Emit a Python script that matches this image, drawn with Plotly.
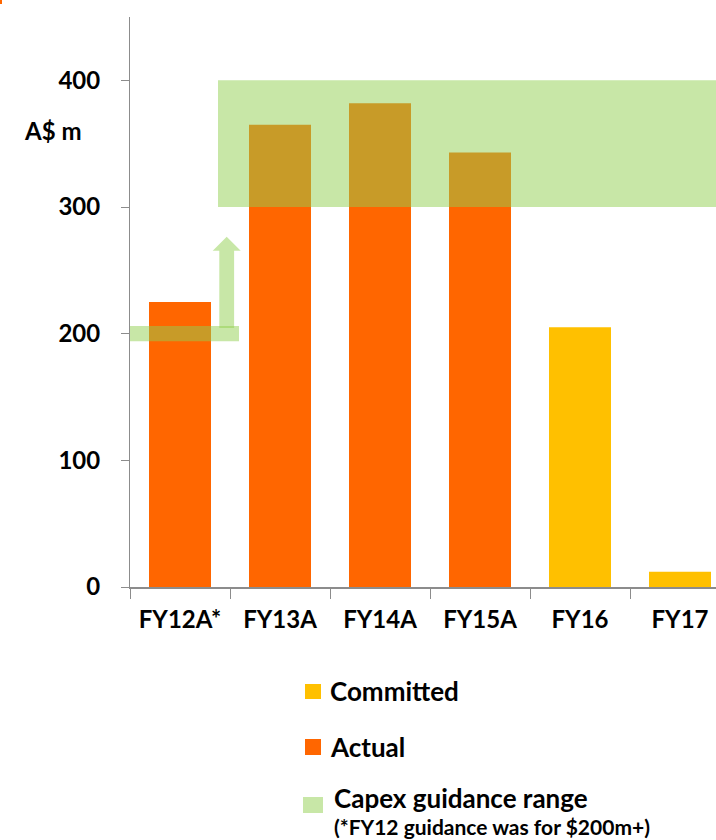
import plotly.graph_objects as go

# Capex by financial year (A$ m)
categories = ["FY12A*", "FY13A", "FY14A", "FY15A", "FY16", "FY17"]
actual_years = ["FY12A*", "FY13A", "FY14A", "FY15A"]
actual_values = [225, 365, 382, 343]
committed_years = ["FY16", "FY17"]
committed_values = [205, 12]

# Capex guidance
guidance_low = 300
guidance_high = 400
fy12_guidance = 200

y_ticks = [0, 100, 200, 300, 400]

ORANGE = "#FF6600"
YELLOW = "#FFC000"
GREEN = "#92D050"
AXIS_GREY = "#8C8C8C"
FONT = "Lato"

W, H = 716, 840
L, R, T, B = 130, 0, 17, 253
X_RANGE = [-0.5, 5.36]
Y_RANGE = [0, 450]


def px(x):
    """Page pixel x -> paper fraction."""
    return (x - L) / (W - L - R)


def py(y):
    """Page pixel y -> paper fraction."""
    return (H - B - y) / (H - T - B)


fig = go.Figure()

fig.add_trace(go.Bar(
    x=actual_years, y=actual_values, name="Actual",
    marker=dict(color=ORANGE, line=dict(width=0)), width=0.62,
    showlegend=False,
))
fig.add_trace(go.Bar(
    x=committed_years, y=committed_values, name="Committed",
    marker=dict(color=YELLOW, line=dict(width=0)), width=0.62,
    showlegend=False,
))

shapes = []

# Guidance band FY13 onwards
shapes.append(dict(
    type="rect", xref="x2", yref="y", layer="above",
    x0=0.38, x1=X_RANGE[1], y0=guidance_low, y1=guidance_high,
    fillcolor=GREEN, opacity=0.5, line=dict(width=0),
))
# FY12 guidance ($200m+)
shapes.append(dict(
    type="rect", xref="x2", yref="y", layer="above",
    x0=-0.5, x1=0.59, y0=fy12_guidance - 6, y1=fy12_guidance + 6,
    fillcolor=GREEN, opacity=0.5, line=dict(width=0),
))
# Upward arrow from the FY12 guidance mark
ax_c, shaft_hw, head_hw = 0.467, 0.074, 0.14
y_base, y_head, y_tip = fy12_guidance + 4.5, 265.5, 276.5
arrow = (
    f"M {ax_c - shaft_hw} {y_base} L {ax_c - shaft_hw} {y_head} "
    f"L {ax_c - head_hw} {y_head} L {ax_c} {y_tip} L {ax_c + head_hw} {y_head} "
    f"L {ax_c + shaft_hw} {y_head} L {ax_c + shaft_hw} {y_base} Z"
)
shapes.append(dict(
    type="path", xref="x2", yref="y", layer="above", path=arrow,
    fillcolor=GREEN, opacity=0.5, line=dict(width=0),
))

# Legend swatches
legend_items = [
    ("Committed", YELLOW, 1.0, (305, 684, 321, 699), (328, 691), 26),
    ("Actual", ORANGE, 1.0, (305, 739, 321, 755), (328, 747), 26),
    ("Capex guidance range", GREEN, 0.5, (303, 797, 323, 813), (332, 798), 26),
]
annotations = []
for label, color, op, (x0, y0, x1, y1), (tx, ty), size in legend_items:
    shapes.append(dict(
        type="rect", xref="paper", yref="paper",
        x0=px(x0), x1=px(x1), y0=py(y1), y1=py(y0),
        fillcolor=color, opacity=op, line=dict(width=0),
    ))
    annotations.append(dict(
        xref="paper", yref="paper", x=px(tx), y=py(ty),
        xanchor="left", yanchor="middle", showarrow=False, text=label,
        font=dict(family=FONT, size=size, color="#000000", weight=700),
    ))

annotations.append(dict(
    xref="paper", yref="paper", x=px(332), y=py(826),
    xanchor="left", yanchor="middle", showarrow=False,
    text="(*FY12 guidance was for $200m+)",
    font=dict(family=FONT, size=21, color="#000000", weight=700),
))

# Axis unit
annotations.append(dict(
    xref="paper", yref="paper", x=px(53), y=py(131),
    xanchor="center", yanchor="middle", showarrow=False, text="A$ m",
    font=dict(family=FONT, size=24, color="#000000", weight=700),
))

# small corner mark
shapes.append(dict(
    type="rect", xref="paper", yref="paper",
    x0=px(0), x1=px(2), y0=py(4), y1=py(0),
    fillcolor=ORANGE, line=dict(width=0),
))

fig.update_layout(
    width=W, height=H,
    margin=dict(l=L, r=R, t=T, b=B, pad=0),
    paper_bgcolor="white", plot_bgcolor="white",
    barmode="overlay",
    showlegend=False,
    shapes=shapes,
    annotations=annotations,
    xaxis=dict(
        type="category", categoryorder="array", categoryarray=categories,
        range=X_RANGE, showgrid=False, zeroline=False,
        showline=True, linecolor=AXIS_GREY, linewidth=2,
        ticks="outside", tickson="boundaries", ticklen=10,
        tickcolor=AXIS_GREY, tickwidth=1,
        tickfont=dict(family=FONT, size=24, color="#000000", weight=700),
        ticklabelstandoff=10,
    ),
    xaxis2=dict(
        overlaying="x", range=X_RANGE, visible=False, showgrid=False,
        zeroline=False,
    ),
    yaxis=dict(
        range=Y_RANGE, tickvals=y_ticks, showgrid=False, zeroline=False,
        showline=True, linecolor=AXIS_GREY, linewidth=1,
        ticks="outside", ticklen=8, tickcolor=AXIS_GREY, tickwidth=1,
        tickfont=dict(family=FONT, size=24, color="#000000", weight=700),
        ticklabelstandoff=16,
    ),
)

fig.write_html("out.html")
